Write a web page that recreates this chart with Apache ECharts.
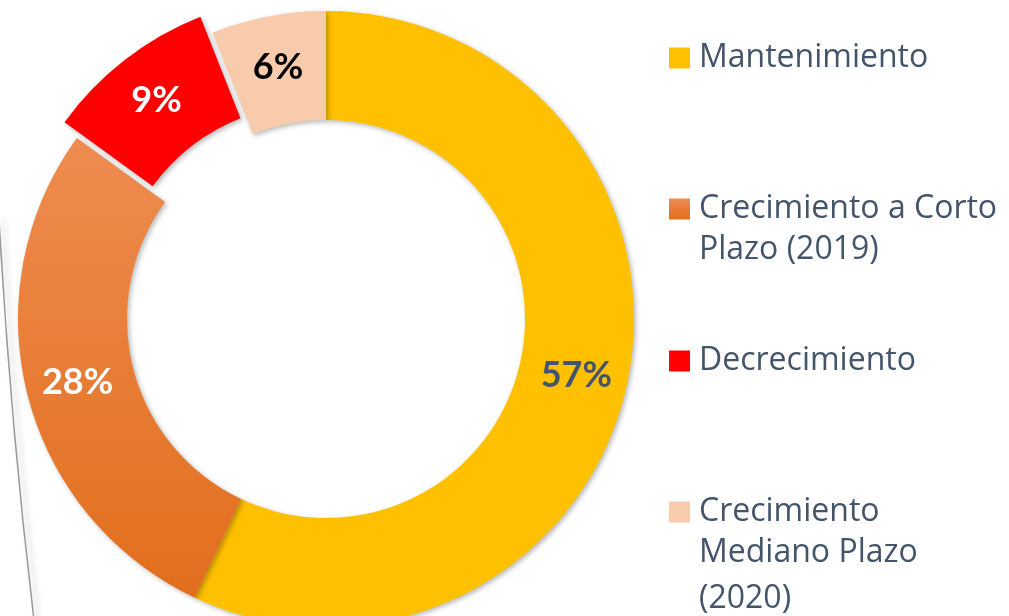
<!DOCTYPE html>
<html>
<head>
<meta charset="utf-8">
<script src="https://cdn.jsdelivr.net/npm/echarts@6/dist/echarts.min.js"></script>
<style>
html,body{margin:0;padding:0;background:#fff;}
#chart{width:1009px;height:616px;}
</style>
</head>
<body>
<div id="chart"></div>
<script>
const categories = ['Mantenimiento', 'Crecimiento a Corto Plazo (2019)', 'Decrecimiento', 'Crecimiento Mediano Plazo (2020)'];
const values = [57, 28, 9, 6];
const legendLines = [
  ['Mantenimiento'],
  ['Crecimiento a Corto', 'Plazo (2019)'],
  ['Decrecimiento'],
  ['Crecimiento', 'Mediano Plazo', '(2020)']
];

const orangeGrad = new echarts.graphic.LinearGradient(0, 0, 0, 1, [
  {offset: 0, color: '#EE8C50'}, {offset: 1, color: '#E26E1C'}
]);
const colors = ['#FFC000', orangeGrad, '#FF0000', '#F8CBAD'];
const labelColors = ['#44546A', '#FFFFFF', '#FFFFFF', '#000000'];
const legendTops = [42, 193, 345, 496];
const LH = 46;
const ICON = 21;
const LEG_FONT = '"Open Sans", sans-serif';
const LABEL_FONT = 'Lato, "Open Sans", sans-serif';

const chart = echarts.init(document.getElementById('chart'));

const legends = [];
categories.forEach((c, i) => {
  const lines = legendLines[i];
  legends.push({
    left: 669,
    top: legendTops[i],
    padding: 0,
    icon: 'rect',
    itemWidth: ICON,
    itemHeight: ICON,
    selectedMode: false,
    data: [c],
    formatter: () => lines[0],
    textStyle: {
      color: '#44546A',
      fontFamily: LEG_FONT,
      fontSize: 32,
      lineHeight: ICON,
      padding: [0, 0, 0, 4]
    }
  });
  if (lines.length > 1) {
    legends.push({
      left: 669,
      top: legendTops[i] + ICON / 2 + LH / 2,
      padding: 0,
      icon: 'none',
      itemWidth: ICON,
      itemHeight: 1,
      selectedMode: false,
      data: [c],
      formatter: () => lines.slice(1).join('\n'),
      textStyle: {
        color: '#44546A',
        fontFamily: LEG_FONT,
        fontSize: 32,
        lineHeight: LH,
        padding: [0, 0, 0, 4]
      }
    });
  }
});

chart.setOption({
  animation: false,
  color: colors,
  legend: legends,
  graphic: [{
    type: 'bezierCurve',
    shape: {x1: -1, y1: 220, x2: 34, y2: 620, cpx1: 8, cpy1: 380, cpx2: 22, cpy2: 520},
    style: {stroke: '#9a9a9a', lineWidth: 1.5, fill: null, shadowBlur: 6, shadowColor: 'rgba(0,0,0,0.25)', shadowOffsetX: 4}
  }],
  series: [{
    type: 'pie',
    center: [326, 319],
    radius: [199, 308],
    startAngle: 90,
    clockwise: true,
    selectedMode: 'single',
    selectedOffset: 20,
    avoidLabelOverlap: false,
    labelLine: {show: false},
    emphasis: {disabled: true},
    itemStyle: {
      shadowBlur: 5,
      shadowColor: 'rgba(0,0,0,0.28)',
      shadowOffsetX: 2,
      shadowOffsetY: 2
    },
    label: {
      show: true,
      position: 'inside',
      formatter: '{c}%',
      fontFamily: LABEL_FONT,
      fontWeight: 'bold',
      fontSize: 36
    },
    data: categories.map((c, i) => ({
      name: c,
      value: values[i],
      selected: i === 2,
      label: {color: labelColors[i]}
    }))
  }]
});
</script>
</body>
</html>
